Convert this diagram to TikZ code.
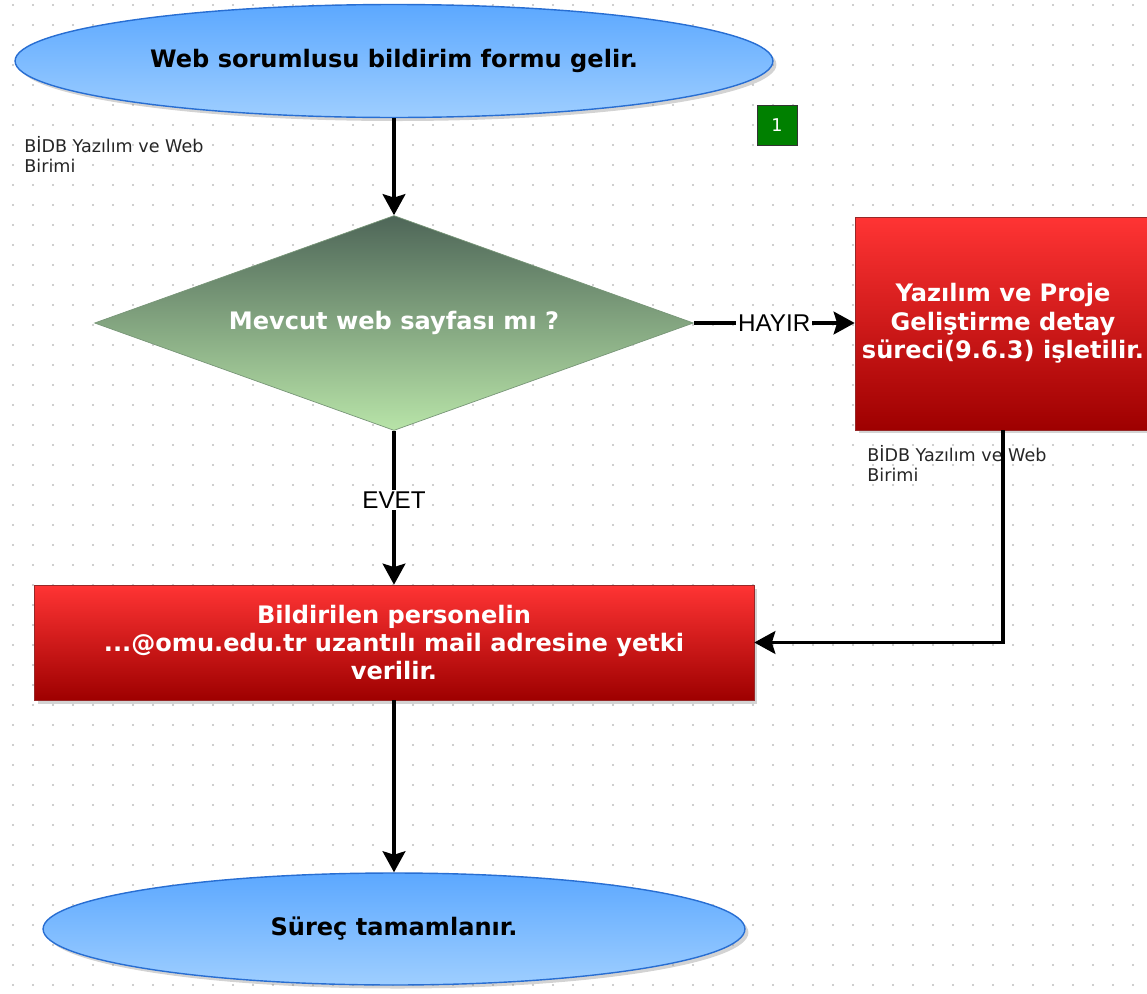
\documentclass[tikz,border=0pt]{standalone}
\usepackage{fontspec}
\setmainfont{DejaVu Sans}
\newfontfamily\arialfont{Liberation Sans}
\usetikzlibrary{arrows.meta, positioning, shapes, shapes.geometric, shadows, backgrounds}

\definecolor{ellTop}{RGB}{92,168,255}
\definecolor{ellBot}{RGB}{158,206,255}
\definecolor{ellLine}{RGB}{40,110,210}
\definecolor{redTop}{RGB}{255,52,52}
\definecolor{redBot}{RGB}{158,0,0}
\definecolor{redLine}{RGB}{150,40,40}
\definecolor{decTop}{RGB}{78,102,88}
\definecolor{decBot}{RGB}{184,228,168}
\definecolor{decLine}{RGB}{120,150,120}
\definecolor{numGreen}{RGB}{0,128,0}
\definecolor{gridDot}{RGB}{190,190,190}

\begin{document}
\begin{tikzpicture}[x=0.02cm, y=-0.02cm,
  terminal/.style={ellipse, draw=ellLine, line width=0.8pt, top color=ellTop, bottom color=ellBot,
    font=\bfseries\fontsize{13.7}{16}\selectfont, text=black, inner sep=0pt,
    drop shadow={shadow xshift=2pt, shadow yshift=-2pt, opacity=0.35}},
  process/.style={rectangle, draw=redLine, thin, top color=redTop, bottom color=redBot,
    font=\bfseries\fontsize{13.7}{16.2}\selectfont, text=white, align=center, inner sep=1pt,
    drop shadow={shadow xshift=2pt, shadow yshift=-2pt, opacity=0.35}},
  decision/.style={diamond, aspect=2.79, draw=decLine, thin, top color=decTop, bottom color=decBot,
    font=\bfseries\fontsize{13.7}{16}\selectfont, text=white, inner sep=0pt},
  stepnum/.style={rectangle, draw=black!80, fill=numGreen, text=white, minimum size=0.8cm,
    font=\fontsize{10}{11}\selectfont, inner sep=0pt},
  unitlabel/.style={align=left, font=\fontsize{10}{11.5}\selectfont, text=black!85, inner sep=0pt},
  flowlabel/.style={fill=white, font=\arialfont\fontsize{13.8}{15}\selectfont, inner sep=1pt},
  flow/.style={line width=1.8pt, -{Stealth[length=12pt, width=13pt, inset=2pt]}}]

  \useasboundingbox (0,0) rectangle (1147,994);

  % Dotted grid
  \foreach \gx in {13,33,...,1147}
    \foreach \gy in {5,25,...,994}
      \fill[gridDot] (\gx,\gy) circle (0.6pt);

  % Start and end
  \node[terminal, minimum width=15.16cm, minimum height=2.26cm] (start) at (394,61) {Web sorumlusu bildirim formu gelir.};
  \node[terminal, minimum width=14.04cm, minimum height=2.24cm] (finish) at (394,929) {Süreç tamamlanır.};

  % Step number and unit labels
  \node[stepnum] (num) at (777,125) {\raisebox{-3pt}{1}};
  \node[unitlabel, anchor=north west] (unitA) at (24,136) {BİDB Yazılım ve Web\\Birimi};
  \node[unitlabel, anchor=north west] (unitB) at (867,445) {BİDB Yazılım ve Web\\Birimi};

  % Decision and processes
  \node[decision, minimum width=11.98cm, minimum height=4.3cm] (check) at (394,323) {Mevcut web sayfası mı ?};
  \node[process, minimum width=5.92cm, minimum height=4.26cm] (develop) at (1003,323.5) {Yazılım ve Proje\\Geliştirme detay\\süreci(9.6.3) işletilir.};
  \node[process, minimum width=14.4cm, minimum height=2.3cm] (grant) at (394,642.5) {Bildirilen personelin\\...@omu.edu.tr uzantılı mail adresine yetki\\verilir.};

  % Connectors
  \draw[flow] (start.south) -- (check.north);
  \draw[flow] (check.east) -- node[flowlabel] {HAYIR} (check.east -| develop.west);
  \draw[flow] (check.south) -- node[flowlabel, pos=0.45] {EVET} (check.south |- grant.north);
  \draw[flow] (develop.south) |- (grant.east);
  \draw[flow] (grant.south) -- (finish.north);
\end{tikzpicture}
\end{document}
